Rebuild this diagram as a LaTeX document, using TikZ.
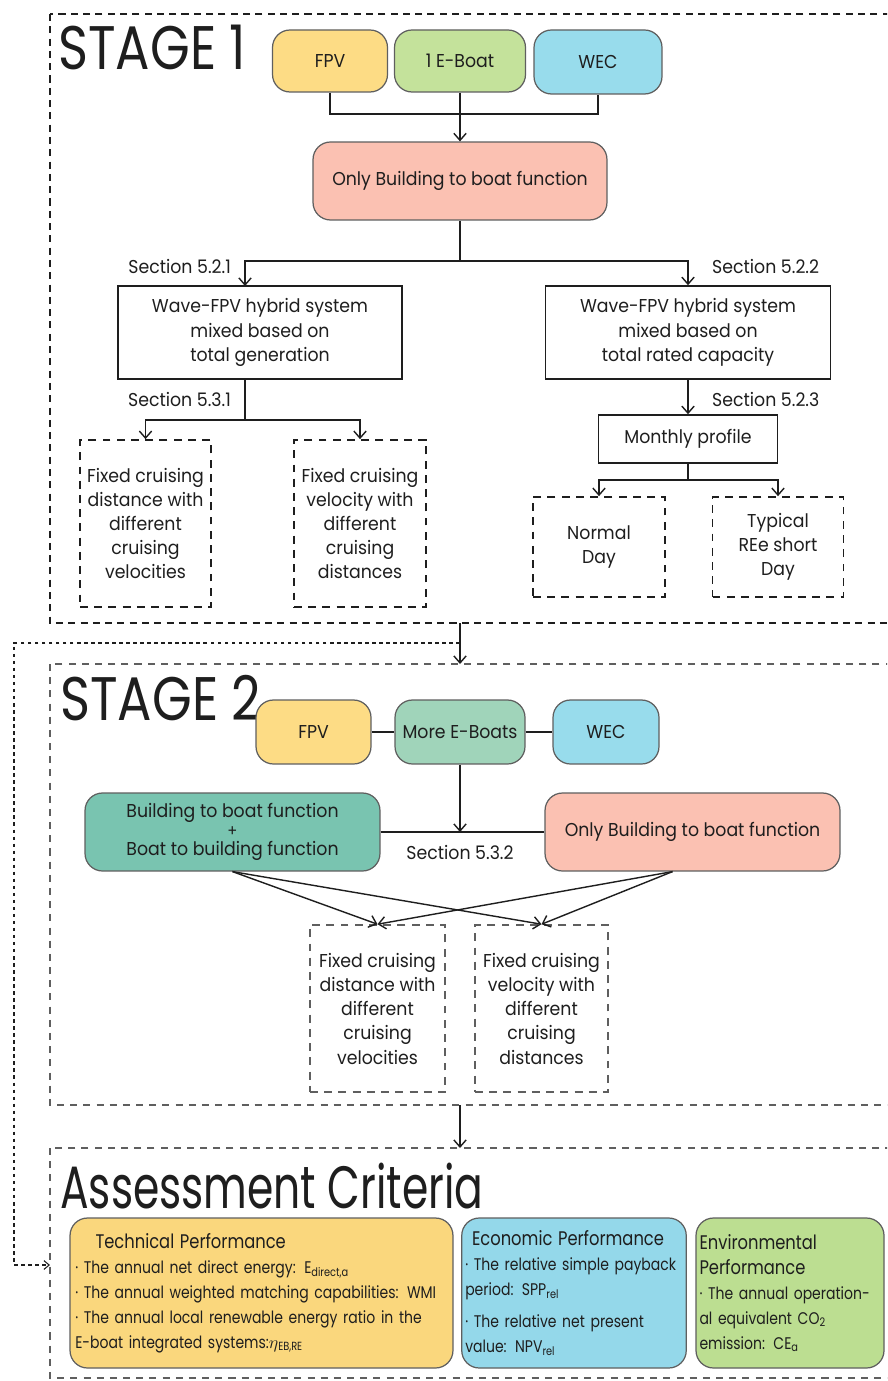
\documentclass[tikz,border=0pt]{standalone}
\usepackage{fontspec}
\setmainfont[FakeStretch=0.93]{Poppins}
\newfontfamily\slimfont[FakeStretch=0.83]{Poppins}
\newfontfamily\narrowfont[FakeStretch=0.71]{Poppins}
\usetikzlibrary{arrows.meta}
\definecolor{253_220_133}{RGB}{253, 220, 133}
\definecolor{196_226_155}{RGB}{196, 226, 155}
\definecolor{152_220_236}{RGB}{152, 220, 236}
\definecolor{251_193_178}{RGB}{251, 193, 178}
\definecolor{160_212_186}{RGB}{160, 212, 186}
\definecolor{121_196_176}{RGB}{121, 196, 176}
\definecolor{250_215_125}{RGB}{250, 215, 125}
\definecolor{148_216_234}{RGB}{148, 216, 234}
\definecolor{188_222_145}{RGB}{188, 222, 145}
\definecolor{ink}{RGB}{30, 30, 30}
\definecolor{dimgray}{RGB}{95, 95, 95}

\begin{document}
\begin{tikzpicture}[
        x=0.02cm, y=-0.02cm,
        every node/.style={text=ink, font=\fontsize{10.6}{13.8}\selectfont},
        colorbox/.style={draw=dimgray, line width=0.7pt, rounded corners=0.35cm, align=center, inner sep=2pt},
        plainbox/.style={draw=ink, line width=0.9pt, align=center, inner sep=2pt},
        dashbox/.style={draw=ink, line width=1pt, dash pattern=on 4.5pt off 3.6pt, align=center, inner sep=2pt},
        greybox/.style={dashbox, draw=dimgray, line width=0.9pt},
        critbox/.style={draw=dimgray, line width=0.7pt, rounded corners=0.35cm, align=left, inner sep=2pt,
            minimum height=3cm, font=\slimfont\fontsize{9.6}{14.2}\selectfont},
        sec/.style={font=\fontsize{10.6}{13}\selectfont},
        stage/.style={font=\slimfont\fontsize{35}{40}\selectfont, anchor=west, inner sep=0pt},
        frame/.style={draw=ink, line width=0.9pt, dash pattern=on 4pt off 3pt},
        lightframe/.style={draw=dimgray, line width=0.7pt, dash pattern=on 4pt off 3.5pt},
        link/.style={draw=ink, line width=0.8pt},
        arrow/.style={link, -{Straight Barb[length=4pt,width=7pt]}},
        dotlink/.style={draw=ink, line width=0.6pt, dash pattern=on 2pt off 2pt,
            -{Straight Barb[length=3pt,width=5pt]}}
    ]
    \useasboundingbox (0,0) rectangle (887,1381);
    \clip (0,0) rectangle (887,1381);
    \fill[white] (0,0) rectangle (887,1381);

    % frames
    \draw[frame] (50,14) rectangle (900,623);
    \draw[lightframe] (50,664) rectangle (900,1105);
    \draw[lightframe] (50,1148) rectangle (900,1378);
    \coordinate (s1bot) at (460,623);
    \coordinate (s2top) at (460,664);
    \coordinate (s2bot) at (460,1105);
    \coordinate (actop) at (460,1148);
    \coordinate (loop) at (460,643);
    \coordinate (acin) at (50,1265);
    \draw[arrow] (s1bot) -- (s2top);
    \draw[arrow] (s2bot) -- (actop);
    \draw[dotlink] (loop) -- (14,643) |- (acin);

    % stage 1
    \node[stage] (title1) at (58,47) {STAGE 1};
    \node[colorbox, fill=253_220_133, minimum width=2.3cm, minimum height=1.24cm] (fpv1) at (330,61) {FPV};
    \node[colorbox, fill=196_226_155, minimum width=2.62cm, minimum height=1.24cm] (boat1) at (460,61) {1 E-Boat};
    \node[colorbox, fill=152_220_236, minimum width=2.56cm, minimum height=1.28cm] (wec1) at (598,62) {WEC};
    \node[colorbox, fill=251_193_178, minimum width=5.88cm, minimum height=1.56cm] (only1) at (460,181) {Only Building to boat function};
    \coordinate (join1) at (460,114);
    \draw[link] (fpv1.south) |- (join1) -| (wec1.south);
    \draw[arrow] (boat1.south) -- (only1.north);

    \node[plainbox, minimum width=5.68cm, minimum height=1.86cm] (gen) at (260,332.5)
        {Wave-FPV hybrid system\\mixed based on\\total generation};
    \node[plainbox, minimum width=5.7cm, minimum height=1.86cm] (cap) at (688,332.5)
        {Wave-FPV hybrid system\\mixed based on\\total rated capacity};
    \coordinate (split1) at (460,261);
    \coordinate (genin) at (245,286);
    \draw[link] (only1.south) -- (split1);
    \draw[arrow] (split1) -| (genin);
    \draw[arrow] (split1) -| (cap.north);
    \node[sec, anchor=east] (sec521) at (237,267) {Section 5.2.1};
    \node[sec, anchor=west] (sec522) at (706,267) {Section 5.2.2};

    \node[dashbox, minimum width=2.62cm, minimum height=3.34cm] (dist1) at (145.5,523.5)
        {Fixed cruising\\distance with\\different\\cruising\\velocities};
    \node[dashbox, minimum width=2.64cm, minimum height=3.34cm] (vel1) at (360,523.5)
        {Fixed cruising\\velocity with\\different\\cruising\\distances};
    \coordinate (genout) at (245,379);
    \coordinate (split2) at (245,420);
    \draw[link] (genout) -- (split2);
    \draw[arrow] (split2) -| (dist1.north);
    \draw[arrow] (split2) -| (vel1.north);
    \node[sec, anchor=east] (sec531) at (237,399) {Section 5.3.1};

    \node[plainbox, minimum width=3.58cm, minimum height=0.96cm] (month) at (688,439) {Monthly profile};
    \draw[arrow] (cap.south) -- (month.north);
    \node[sec, anchor=west] (sec523) at (706,399) {Section 5.2.3};
    \node[dashbox, minimum width=2.64cm, minimum height=2cm] (normal) at (599,547) {Normal\\Day};
    \node[dashbox, minimum width=2.62cm, minimum height=2cm] (typical) at (778,547) {Typical\\REe short\\Day};
    \coordinate (split3) at (688,480);
    \draw[link] (month.south) -- (split3);
    \draw[arrow] (split3) -| (normal.north);
    \draw[arrow] (split3) -| (typical.north);

    % stage 2
    \node[stage] (title2) at (60,698) {STAGE 2};
    \node[colorbox, fill=253_220_133, minimum width=2.3cm, minimum height=1.28cm] (fpv2) at (313.5,732) {FPV};
    \node[colorbox, fill=160_212_186, minimum width=2.6cm, minimum height=1.28cm] (boat2) at (460,732) {More E-Boats};
    \node[colorbox, fill=152_220_236, minimum width=2.12cm, minimum height=1.28cm] (wec2) at (606,732) {WEC};
    \draw[link] (fpv2) -- (boat2);
    \draw[link] (boat2) -- (wec2);
    \node[colorbox, fill=121_196_176, minimum width=5.9cm, minimum height=1.56cm] (both) at (232.5,832)
        {Building to boat function\\[-3pt]{\fontsize{9}{9}\selectfont +}\\[-3pt]Boat to building function};
    \node[colorbox, fill=251_193_178, minimum width=5.9cm, minimum height=1.56cm] (only2) at (692.5,832) {Only Building to boat function};
    \coordinate (join2) at (460,832);
    \draw[arrow] (boat2.south) -- (join2);
    \draw[link] (both) -- (only2);
    \node[sec] (sec532) at (460,852) {Section 5.3.2};

    \node[greybox, minimum width=2.7cm, minimum height=3.34cm] (dist2) at (377.5,1008.5)
        {Fixed cruising\\distance with\\different\\cruising\\velocities};
    \node[greybox, minimum width=2.66cm, minimum height=3.34cm] (vel2) at (541.5,1008.5)
        {Fixed cruising\\velocity with\\different\\cruising\\distances};
    \draw[arrow] (both.south) -- (dist2.north);
    \draw[arrow] (both.south) -- (vel2.north);
    \draw[arrow] ([xshift=-0.4cm]only2.south) -- (dist2.north);
    \draw[arrow] ([xshift=-0.4cm]only2.south) -- (vel2.north);

    % assessment criteria
    \node[stage, font=\narrowfont\fontsize{34}{40}\selectfont] (title3) at (60,1186) {Assessment Criteria};
    \node[critbox, fill=250_215_125, minimum width=7.66cm, text width=7.45cm] (tech) at (261.5,1293)
        {\hspace*{1.2em}{\fontsize{11.2}{14}\selectfont Technical Performance}\\
         · The annual net direct energy: E\textsubscript{direct,a}\\
         · The annual weighted matching capabilities: WMI\\
         · The annual local renewable energy ratio in the\\
         E-boat integrated systems:$\eta$\textsubscript{EB,RE}};
    \node[critbox, fill=148_216_234, minimum width=4.48cm, text width=4.35cm] (econ) at (574,1293)
        {\hspace*{0.4em}{\fontsize{11.2}{14}\selectfont Economic Performance}\\
         · The relative simple payback\\
         period: SPP\textsubscript{rel}\\[4pt]
         · The relative net present\\
         value: NPV\textsubscript{rel}};
    \node[critbox, fill=188_222_145, minimum width=3.76cm, text width=3.62cm] (env) at (790,1293)
        {{\fontsize{11.2}{14}\selectfont Environmental\\Performance}\\
         · The annual operation-\\
         al equivalent CO\textsubscript{2}\\
         emission: CE\textsubscript{a}};
\end{tikzpicture}
\end{document}
